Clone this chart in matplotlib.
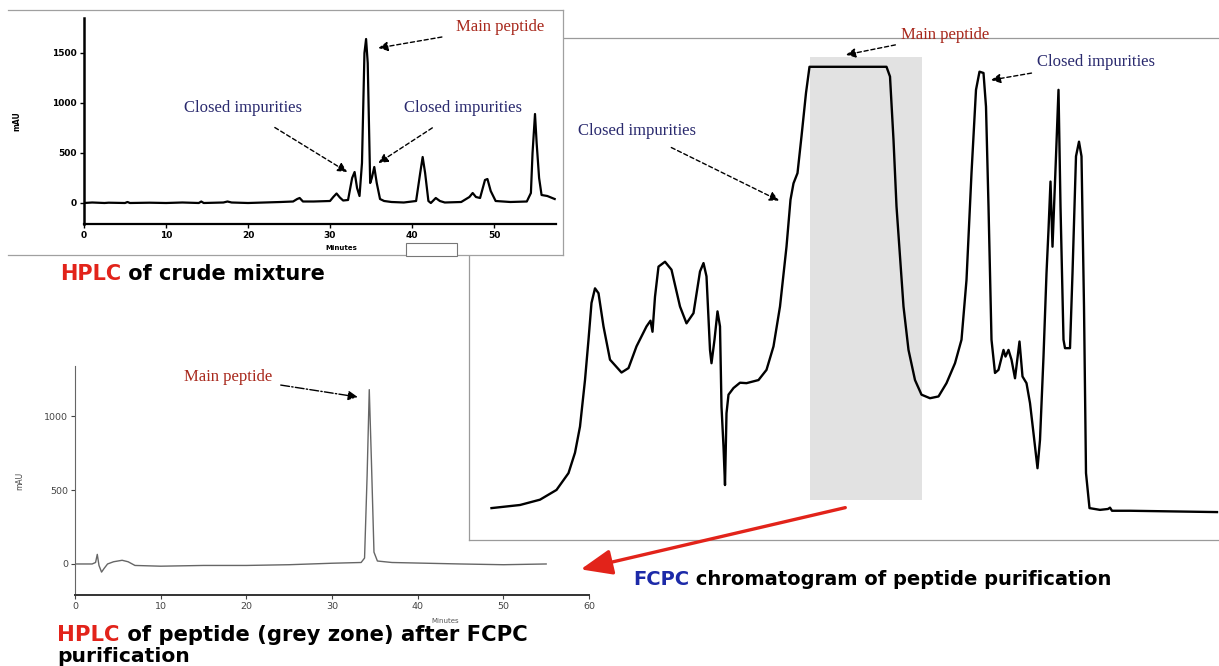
import matplotlib
matplotlib.use("Agg")
import matplotlib.pyplot as plt
from matplotlib.patches import Rectangle, FancyArrowPatch
from matplotlib.text import Annotation

W, H, DPI = 1219, 666, 100

# ---------------- data ----------------
# HPLC of crude mixture (minutes, mAU)
crude_time = [0, 1, 2.5, 3, 5, 5.3, 5.6, 8, 10, 12, 14, 14.3, 14.6, 17, 17.5, 18, 20, 22, 24,
              25.5, 26, 26.3, 26.7, 28, 30, 30.4, 30.8, 31.2, 31.6, 32.2, 32.7, 33.0, 33.3,
              33.6, 33.9, 34.2, 34.4, 34.6, 34.9, 35.1, 35.4, 35.7, 36.1, 36.6, 37.5, 39,
              40.5, 41.0, 41.3, 41.6, 42.0, 42.3, 42.9, 43.4, 44, 46, 47.0, 47.4, 47.8, 48.3,
              48.9, 49.2, 49.6, 50.2, 52, 54, 54.5, 54.7, 55.0, 55.2, 55.5, 55.8, 56.5, 57.4]
crude_mau = [0, 5, 0, 3, 0, 10, 0, 3, 0, 5, 0, 15, 0, 5, 15, 5, 0, 5, 10,
             15, 40, 50, 15, 15, 20, 60, 95, 55, 25, 30, 250, 310, 150,
             70, 400, 1500, 1640, 1400, 200, 250, 360, 200, 40, 20, 10, 5,
             20, 300, 460, 300, 20, 0, 50, 20, 5, 10, 60, 100, 60, 50,
             230, 240, 120, 20, 10, 15, 100, 500, 890, 600, 250, 80, 70, 40]
crude_xticks = [0, 10, 20, 30, 40, 50]
crude_yticks = [0, 500, 1000, 1500]

# HPLC of peptide after FCPC (minutes, mAU)
pure_time = [0, 2.0, 2.4, 2.6, 2.8, 3.1, 3.4, 3.8, 4.5, 5.5, 6.2, 7, 10, 15, 20, 25, 30,
             33.4, 33.8, 34.1, 34.35, 34.6, 34.9, 35.3, 37, 45, 50, 55]
pure_mau = [0, 0, 10, 65, -10, -55, -30, 0, 15, 25, 15, -10, -15, -10, -10, -5, 5,
            10, 40, 600, 1180, 700, 80, 20, 10, 0, -5, 0]
pure_xticks = [0, 10, 20, 30, 40, 50, 60]
pure_yticks = [0, 500, 1000]

# FCPC chromatogram (relative time, relative absorbance)
fcpc_time = [0.1, 5.8, 9.8, 13.1, 15.5, 16.8, 17.8, 18.8, 19.5, 20.1, 20.8, 21.5, 22.5, 23.8,
             26.1, 27.5, 29.1, 31.1, 31.9, 32.3, 32.8, 33.5, 34.8, 36.1, 37.8, 39.1, 40.5,
             41.8, 42.5, 43.1, 43.8, 44.1, 44.7, 45.3, 45.8, 46.1, 46.5, 46.8, 47.1, 47.5,
             48.5, 49.8, 51.1, 53.5, 55.1, 56.5, 57.8, 59.1, 59.9, 60.5, 61.3, 62.1, 63.0,
             63.7, 79.1, 79.8, 80.5, 81.1, 81.8, 82.5, 83.5, 84.8, 86.1, 87.8, 89.5, 91.1,
             92.8, 94.1, 95.1, 96.1, 97.0, 97.7, 98.5, 99.0, 99.5, 100.1, 100.8, 101.5,
             102.5, 102.9, 103.5, 104.1, 104.8, 105.7, 106.3, 107.1, 107.8, 108.5, 109.3,
             109.8, 110.5, 111.1, 111.5, 111.9, 112.3, 113.0, 113.5, 113.9, 114.5, 114.8,
             115.8, 116.3, 117.0, 117.6, 118.1, 118.6, 119.0, 119.7, 121.8, 123.4, 123.8,
             124.2, 127.8, 145.2]
fcpc_abs = [0.4, 1.1, 2.3, 4.5, 8.3, 12.9, 18.8, 29.3, 38.4, 46.7, 50.0, 48.9, 41.4, 33.9,
            31.0, 32.0, 36.9, 41.4, 42.7, 40.2, 48.1, 54.9, 56.0, 54.2, 45.9, 42.1, 44.4,
            53.8, 55.7, 52.7, 36.1, 33.1, 38.4, 44.8, 41.4, 23.3, 14.3, 5.6, 21.8, 26.0,
            27.5, 28.7, 28.6, 29.3, 31.6, 36.9, 45.9, 59.4, 70.0, 73.7, 76.0, 84.3, 94.1,
            100, 100, 97.8, 83.5, 68.5, 57.2, 45.9, 36.1, 29.3, 26.0, 25.2, 25.6, 28.6,
            33.1, 38.4, 51.9, 76.0, 94.8, 98.9, 98.6, 91.0, 68.5, 38.4, 30.9, 31.6,
            36.1, 34.6, 36.1, 33.9, 29.7, 38.0, 30.1, 28.6, 24.1, 17.3, 9.4,
            15.8, 34.6, 53.4, 63.2, 74.1, 59.4, 79.8, 94.8, 68.5, 38.4, 36.5,
            36.5, 53.4, 79.8, 83.1, 79.8, 45.9, 8.3, 0.4, 0.0, 0.2, 0.5,
            -0.2, -0.2, -0.5]
grey_zone_time = (63.8, 86.1)
grey_zone_abs = (2.3, 102.3)

# ---------------- helpers ----------------
def fx(px):
    return px / W

def fy(py):
    return 1 - py / H

def rect(l, t, r, b):
    return [fx(l), fy(b), (r - l) / W, (b - t) / H]

RED = "#e2231a"
DARKRED = "#a8281c"
NAVY = "#2a2a6e"
BLUE = "#1c2aa8"
SERIF = "Liberation Serif"
ANN = 12

fig = plt.figure(figsize=(W / DPI, H / DPI), dpi=DPI)
fig.patch.set_facecolor("white")

dash_arrow = dict(arrowstyle="-|>", linestyle=(0, (3, 2)), color="black", lw=1,
                  mutation_scale=14, shrinkA=2, shrinkB=0)

# ---------------- bottom-left: HPLC after FCPC ----------------
axb = fig.add_axes(rect(75, 366, 589, 595), zorder=1)
axb.plot(pure_time, pure_mau, color="#666666", lw=1.0)
axb.set_xlim(0, 60)
axb.set_ylim(-210, 1340)
axb.set_xticks(pure_xticks)
axb.set_yticks(pure_yticks)
axb.tick_params(labelsize=6.8, colors="#444444", length=3, width=0.8, pad=2)
for s in ("top", "right"):
    axb.spines[s].set_visible(False)
axb.spines["left"].set_color("#666666")
axb.spines["bottom"].set_color("#333333")
axb.spines["bottom"].set_linewidth(1.4)
axb.set_xlabel("Minutes", fontsize=5, color="#555555", labelpad=1)
axb.xaxis.set_label_coords(0.72, -0.1)
axb.set_ylabel("mAU", fontsize=5.5, color="#444444", labelpad=14)
axb.annotate("Main peptide", xy=(33.0, 1130), xytext=(17.9, 1266),
             fontsize=ANN, family=SERIF, color=DARKRED, ha="center", va="center",
             arrowprops=dict(dash_arrow, linestyle="-.", shrinkA=4))

# ---------------- right: FCPC chromatogram ----------------
axr = fig.add_axes(rect(469, 38, 1219, 540), zorder=2)
axr.set_facecolor("white")
axr.add_patch(Rectangle((grey_zone_time[0], grey_zone_abs[0]),
                        grey_zone_time[1] - grey_zone_time[0],
                        grey_zone_abs[1] - grey_zone_abs[0],
                        facecolor="#e2e2e2", edgecolor="none", zorder=1))
axr.plot(fcpc_time, fcpc_abs, color="black", lw=1.7, zorder=2)
axr.set_xlim(-4.4, 145.6)
axr.set_ylim(-6.8, 106.5)
axr.set_xticks([])
axr.set_yticks([])
axr.spines["right"].set_visible(False)
for s in ("left", "top", "bottom"):
    axr.spines[s].set_color("#9a9a9a")
    axr.spines[s].set_linewidth(0.9)

axr.annotate("Main peptide", xy=(71, 102.7), xytext=(90.8, 107.2),
             fontsize=ANN, family=SERIF, color=DARKRED, ha="center", va="center",
             annotation_clip=False, arrowprops=dash_arrow)
axr.annotate("Closed impurities", xy=(100, 97), xytext=(121, 101.1),
             fontsize=ANN, family=SERIF, color=NAVY, ha="center", va="center",
             annotation_clip=False, arrowprops=dash_arrow)
axr.annotate("Closed impurities", xy=(57.6, 69.8), xytext=(29.2, 85.6),
             fontsize=ANN, family=SERIF, color=NAVY, ha="center", va="center",
             annotation_clip=False,
             arrowprops=dict(dash_arrow, shrinkA=10))

# ---------------- top-left: HPLC crude ----------------
axbg = fig.add_axes(rect(8, 10, 563, 255), zorder=3)
axbg.set_facecolor("white")
axbg.set_xticks([])
axbg.set_yticks([])
axbg.spines["left"].set_visible(False)
for s in ("top", "right", "bottom"):
    axbg.spines[s].set_color("#a0a0a0")
    axbg.spines[s].set_linewidth(0.9)

axt = fig.add_axes(rect(84, 18, 555.5, 224), zorder=4)
axt.set_facecolor("none")
axt.plot(crude_time, crude_mau, color="black", lw=1.6)
axt.set_xlim(0, 57.5)
axt.set_ylim(-210, 1850)
axt.set_xticks(crude_xticks)
axt.set_yticks(crude_yticks)
axt.tick_params(labelsize=6.5, length=3, width=1, pad=2)
for lbl in axt.get_xticklabels() + axt.get_yticklabels():
    lbl.set_fontweight("bold")
for s in ("top", "right"):
    axt.spines[s].set_visible(False)
axt.spines["left"].set_linewidth(1.8)
axt.spines["bottom"].set_linewidth(1.6)
axt.set_xlabel("Minutes", fontsize=5, fontweight="bold", labelpad=1)
axt.xaxis.set_label_coords(0.546, -0.1)
axt.set_ylabel("mAU", fontsize=5.5, fontweight="bold", labelpad=22)

axt.annotate("Main peptide", xy=(35.9, 1550), xytext=(50.7, 1760),
             fontsize=ANN, family=SERIF, color=DARKRED, ha="center", va="center",
             annotation_clip=False, arrowprops=dict(dash_arrow, shrinkA=8))
axt.annotate("Closed impurities", xy=(32.1, 310), xytext=(19.4, 950),
             fontsize=ANN, family=SERIF, color=NAVY, ha="center", va="center",
             arrowprops=dict(dash_arrow, shrinkA=12))
axt.annotate("Closed impurities", xy=(35.9, 400), xytext=(46.2, 950),
             fontsize=ANN, family=SERIF, color=NAVY, ha="center", va="center",
             arrowprops=dict(dash_arrow, shrinkA=12))

fig.add_artist(Rectangle((fx(406), fy(256)), 51 / W, 13 / H, transform=fig.transFigure,
                         facecolor="white", edgecolor="#777777", lw=0.8, zorder=5))

# ---------------- red arrow ----------------
fig.add_artist(FancyArrowPatch(posA=(fx(848), fy(507)), posB=(fx(578), fy(570)),
                               transform=fig.transFigure,
                               arrowstyle="-|>,head_length=1.6,head_width=0.65",
                               mutation_scale=12, color=RED, lw=2.4, zorder=7))

# ---------------- captions ----------------
def caption(x, y, first, first_color, rest, size):
    cap = dict(fontsize=size, fontweight="bold", family="DejaVu Sans", va="bottom",
               ha="left", zorder=8)
    t1 = fig.text(fx(x), fy(y), first, color=first_color, **cap)
    if rest:
        fig.add_artist(Annotation(rest, xy=(1, 0), xycoords=t1, color="black", **cap))
    return t1

caption(60, 284, "HPLC", RED, " of crude mixture", 15)
caption(57, 645, "HPLC", RED, " of peptide (grey zone) after FCPC", 15.2)
caption(57, 665.5, "purification", "black", "", 14.6)
caption(633, 589, "FCPC", BLUE, " chromatogram of peptide purification", 14)

fig.savefig("out.png", dpi=DPI, facecolor="white")
